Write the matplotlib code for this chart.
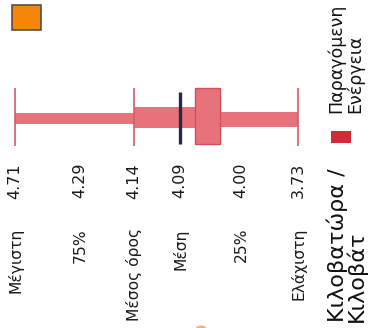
import numpy as np
import matplotlib
matplotlib.use("Agg")
import matplotlib.pyplot as plt
from matplotlib.patches import Rectangle, Ellipse

# ---- data ----
stat_names = ["Μέγιστη", "75%", "Μέσος όρος", "Μέση", "25%", "Ελάχιστη"]
stat_values = [4.71, 4.29, 4.14, 4.09, 4.00, 3.73]
stat_labels = ["4.71", "4.29", "4.14", "4.09", "4.00", "3.73"]
whisker_values = [4.71, 4.14, 3.73]
median_value = 4.09
# bar segments (start value, end value) of the graphic
thin_left = (4.71, 4.14)
mid_bar = (4.14, 4.068)
box = (4.068, 4.031)
thin_right = (4.031, 3.73)
legend_series = "Κιλοβατώρα /\nΚιλοβάτ"
legend_title = "Παραγόμενη\nΕνέργεια"

# ---- layout (pixel positions of the stat columns) ----
W, H = 374, 328
col_px = [15, 80, 134, 180, 241, 298]
vals_asc = np.array(stat_values[::-1])
px_asc = np.array(col_px[::-1], dtype=float)
K = 200.0

def fwd(v):
    v = np.asarray(v, dtype=float)
    out = np.interp(v, vals_asc, px_asc)
    out = np.where(v > vals_asc[-1], px_asc[-1] - (v - vals_asc[-1]) * K, out)
    out = np.where(v < vals_asc[0], px_asc[0] + (vals_asc[0] - v) * K, out)
    return -out

def inv(p):
    p = -np.asarray(p, dtype=float)
    out = np.interp(p, px_asc[::-1], vals_asc[::-1])
    out = np.where(p < px_asc[-1], vals_asc[-1] + (px_asc[-1] - p) / K, out)
    out = np.where(p > px_asc[0], vals_asc[0] - (p - px_asc[0]) / K, out)
    return out

fig = plt.figure(figsize=(W / 100, H / 100), dpi=100)
fig.patch.set_facecolor("white")

lay = fig.add_axes([0, 0, 1, 1])
lay.set_xlim(0, W)
lay.set_ylim(H, 0)
lay.axis("off")

ax = fig.add_axes([0, 0, 1, 1], sharey=lay)
ax.set_xscale("function", functions=(fwd, inv))
ax.set_xlim(float(inv(0)), float(inv(-W)))
ax.axis("off")
ax.patch.set_alpha(0)

bar_col = "#e8727b"
line_col = "#d65a66"

def seg(a, b, yc, h, **kw):
    ax.add_patch(Rectangle((a, yc - h / 2), b - a, h, **kw))

seg(*thin_left, 118, 11, facecolor=bar_col, edgecolor="none")
seg(*mid_bar, 117.5, 21, facecolor=bar_col, edgecolor="none")
seg(*thin_right, 119, 15, facecolor=bar_col, edgecolor="none")
seg(*box, 116, 56, facecolor=bar_col, edgecolor="#d44e5a", linewidth=1.0)

ax.vlines(whisker_values, 88, 146, colors=line_col, linewidth=1.2)
ax.vlines([median_value], 92, 144, colors="#262a45", linewidth=2.4)

fs = 11.5
for v, name, lab in zip(stat_values, stat_names, stat_labels):
    ax.text(v, 163, lab, rotation=90, ha="center", va="top", fontsize=fs,
            color="#1a1a1a", family="DejaVu Sans")
    ax.text(v, 228, name, rotation=90, ha="center", va="top", fontsize=11.2,
            color="#1a1a1a", family="DejaVu Sans")

# legend
lay.add_patch(Rectangle((331, 131), 20, 12, facecolor="#d42a35", edgecolor="none"))
lay.text(327, 322, legend_series, rotation=90, ha="left", va="bottom",
         fontsize=16, color="#111111", linespacing=0.85, family="DejaVu Sans")
lay.text(327, 113, legend_title, rotation=90, ha="left", va="bottom",
         fontsize=12.5, color="#111111", linespacing=1.05, family="DejaVu Sans")

# decorative orange markers
lay.add_patch(Rectangle((12, 5), 29, 25, facecolor="#f5860a", edgecolor="#5a4d45",
                        linewidth=1.2))
lay.add_patch(Ellipse((201, 328), 10, 5, facecolor="#f0a050", edgecolor="none", alpha=0.8))

fig.savefig("out.png", dpi=100, facecolor="white")
